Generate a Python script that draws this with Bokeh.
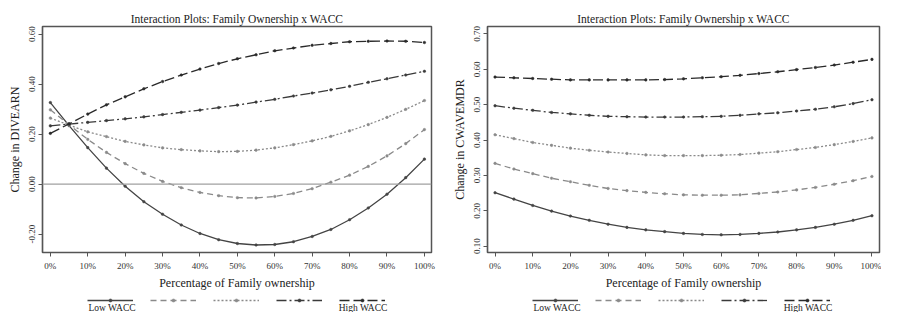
from bokeh.plotting import figure
from bokeh.models import (FixedTicker, Span, Legend, LegendItem, Label, Range1d)
from bokeh.layouts import row, column
from bokeh.core.properties import value
from bokeh.embed import file_html
from bokeh.resources import INLINE

# ---------------- data ----------------
ownership = [0, 5, 10, 15, 20, 25, 30, 35, 40, 45, 50, 55, 60, 65, 70, 75, 80, 85, 90, 95, 100]
x_ticks = [0, 10, 20, 30, 40, 50, 60, 70, 80, 90, 100]
x_tick_labels = ["0%", "10%", "20%", "30%", "40%", "50%", "60%", "70%", "80%", "90%", "100%"]
series_names = ["Low WACC", "WACC 2", "WACC 3", "WACC 4", "High WACC"]

title_text = "Interaction Plots: Family Ownership x WACC"
x_label = "Percentage of Family ownership"

# Left panel: Change in DIVEARN
divearn_y_label = "Change in DIVEARN"
divearn_y_ticks = [-0.2, 0.0, 0.2, 0.4, 0.6]
divearn_y_tick_labels = ["-0.20", "0.00", "0.20", "0.40", "0.60"]
divearn_low = [0.326, 0.234, 0.146, 0.064, -0.008, -0.070, -0.120, -0.163, -0.197, -0.222, -0.237,
               -0.243, -0.241, -0.230, -0.209, -0.181, -0.142, -0.095, -0.040, 0.026, 0.100]
divearn_w2 = [0.297, 0.237, 0.179, 0.127, 0.082, 0.043, 0.011, -0.014, -0.033, -0.046, -0.054,
              -0.055, -0.049, -0.037, -0.018, 0.008, 0.036, 0.071, 0.113, 0.162, 0.218]
divearn_w3 = [0.264, 0.236, 0.209, 0.190, 0.171, 0.157, 0.145, 0.138, 0.133, 0.130, 0.131,
              0.136, 0.145, 0.158, 0.173, 0.191, 0.213, 0.238, 0.267, 0.299, 0.334]
divearn_w4 = [0.233, 0.240, 0.247, 0.254, 0.261, 0.269, 0.278, 0.287, 0.296, 0.306, 0.316,
              0.328, 0.339, 0.352, 0.364, 0.377, 0.391, 0.407, 0.421, 0.436, 0.451]
divearn_high = [0.203, 0.241, 0.280, 0.317, 0.349, 0.381, 0.410, 0.436, 0.460, 0.482, 0.501,
                0.517, 0.533, 0.544, 0.555, 0.562, 0.569, 0.571, 0.572, 0.571, 0.566]

# Right panel: Change in CWAVEMDR
cwavemdr_y_label = "Change in CWAVEMDR"
cwavemdr_y_ticks = [0.1, 0.2, 0.3, 0.4, 0.5, 0.6, 0.7]
cwavemdr_y_tick_labels = ["0.10", "0.20", "0.30", "0.40", "0.50", "0.60", "0.70"]
cwavemdr_low = [0.251, 0.233, 0.215, 0.199, 0.185, 0.173, 0.162, 0.153, 0.146, 0.141, 0.136,
                0.133, 0.132, 0.133, 0.136, 0.140, 0.146, 0.153, 0.162, 0.173, 0.186]
cwavemdr_w2 = [0.334, 0.318, 0.305, 0.292, 0.282, 0.272, 0.263, 0.257, 0.252, 0.248, 0.245,
               0.244, 0.244, 0.245, 0.249, 0.253, 0.259, 0.266, 0.275, 0.285, 0.297]
cwavemdr_w3 = [0.415, 0.404, 0.393, 0.385, 0.377, 0.371, 0.366, 0.362, 0.358, 0.356, 0.356,
               0.356, 0.357, 0.359, 0.363, 0.367, 0.373, 0.379, 0.387, 0.396, 0.406]
cwavemdr_w4 = [0.497, 0.490, 0.484, 0.478, 0.474, 0.470, 0.467, 0.466, 0.465, 0.465, 0.465,
               0.466, 0.467, 0.470, 0.474, 0.477, 0.482, 0.487, 0.494, 0.503, 0.514]
cwavemdr_high = [0.578, 0.576, 0.574, 0.572, 0.570, 0.570, 0.570, 0.570, 0.570, 0.571, 0.573,
                 0.576, 0.579, 0.583, 0.588, 0.593, 0.599, 0.605, 0.612, 0.620, 0.628]

# ---------------- styles ----------------
SERIF = "Liberation Serif"
styles = [
    dict(color="#444444", dash="solid"),
    dict(color="#8a8a8a", dash="6 4"),
    dict(color="#8a8a8a", dash="2 2"),
    dict(color="#3a3a3a", dash="10 3 2 3"),
    dict(color="#2a2a2a", dash="10 4"),
]
MAIN_H = 292
LEG_H = 20
NAN = float("nan")


def make_panel(ys, y_label, y_ticks, y_tick_labels, y_range, x_range,
               width, border_left, border_right, zero_line):
    p = figure(width=width, height=MAIN_H, output_backend="svg", toolbar_location=None,
               x_range=Range1d(*x_range), y_range=Range1d(*y_range),
               min_border_left=border_left, min_border_right=border_right,
               min_border_top=26, min_border_bottom=36,
               title=title_text)
    p.background_fill_color = "white"
    p.border_fill_color = "white"
    p.xgrid.visible = False
    p.ygrid.visible = False
    p.outline_line_color = "#555555"
    p.outline_line_width = 1.5

    p.title.align = "center"
    p.title.text_font = SERIF
    p.title.text_font_style = "normal"
    p.title.text_font_size = "11.5px"
    p.title.text_color = "#222222"
    p.title.standoff = 3

    for ax in (p.xaxis[0], p.yaxis[0]):
        ax.axis_line_color = "#555555"
        ax.axis_line_width = 1.2
        ax.major_tick_line_color = "#555555"
        ax.major_tick_out = 4
        ax.major_tick_in = 0
        ax.minor_tick_line_color = None
        ax.major_label_text_font = SERIF
        ax.major_label_text_font_size = "9px"
        ax.major_label_text_color = "#333333"
        ax.axis_label_text_font = SERIF
        ax.axis_label_text_font_size = "12px"
        ax.axis_label_text_font_style = "normal"
        ax.axis_label_text_color = "#222222"

    p.xaxis.ticker = FixedTicker(ticks=x_ticks)
    p.xaxis.major_label_overrides = dict(zip(x_ticks, x_tick_labels))
    p.xaxis.axis_label = x_label
    p.xaxis.major_label_standoff = 4
    p.xaxis.axis_label_standoff = 2

    p.yaxis.ticker = FixedTicker(ticks=y_ticks)
    p.yaxis.major_label_overrides = dict(zip(y_ticks, y_tick_labels))
    p.yaxis.major_label_orientation = "vertical"
    p.yaxis.axis_label = y_label
    p.yaxis.major_label_standoff = 3
    p.yaxis.axis_label_standoff = 5

    if zero_line:
        p.add_layout(Span(location=0, dimension="width", line_color="#a0a0a0", line_width=1.2))

    for y, st in zip(ys, styles):
        p.line(ownership, y, line_color=st["color"], line_width=1.3, line_dash=st["dash"])
        p.scatter(ownership, y, marker="circle", size=2.6, fill_color=st["color"],
                  line_color=st["color"], line_width=0.5)

    # legend strip underneath the chart (its frame is aligned with the chart frame)
    lf = figure(width=width, height=LEG_H, output_backend="svg", toolbar_location=None,
                x_range=(0, 1), y_range=(0, 1), x_axis_type=None, y_axis_type=None,
                min_border=0)
    lf.outline_line_color = None
    lf.xgrid.visible = False
    lf.ygrid.visible = False
    items = []
    for st in styles:
        rl = lf.line([NAN], [NAN], line_color=st["color"], line_width=1.3, line_dash=st["dash"])
        rm = lf.scatter([NAN], [NAN], marker="circle", size=2.6, fill_color=st["color"],
                        line_color=st["color"], line_width=0.5)
        items.append(LegendItem(label=value(" "), renderers=[rl, rm]))
    legend = Legend(items=items, orientation="horizontal", location=(45, 8),
                    glyph_width=46, glyph_height=8, label_standoff=0, label_width=1,
                    label_height=1, label_text_font_size="2px", spacing=16,
                    padding=0, margin=0, border_line_alpha=0, background_fill_alpha=0)
    lf.add_layout(legend, "center")
    lf.add_layout(Label(x=46, y=5, x_units="screen", y_units="screen",
                        text=series_names[0], text_font=SERIF, text_font_size="9.5px",
                        text_color="#222222", text_baseline="middle", text_align="left"))
    lf.add_layout(Label(x=345, y=5, x_units="screen", y_units="screen",
                        text=series_names[4], text_font=SERIF, text_font_size="9.5px",
                        text_color="#222222", text_baseline="middle", text_align="right"))
    return column(p, lf, spacing=0)


left = make_panel([divearn_low, divearn_w2, divearn_w3, divearn_w4, divearn_high],
                  divearn_y_label, divearn_y_ticks, divearn_y_tick_labels,
                  (-0.273, 0.63), (-2.1, 101.9), 443, 42, 12, True)
right = make_panel([cwavemdr_low, cwavemdr_w2, cwavemdr_w3, cwavemdr_w4, cwavemdr_high],
                   cwavemdr_y_label, cwavemdr_y_ticks, cwavemdr_y_tick_labels,
                   (0.082, 0.721), (-2.0, 102.0), 438, 44, 2, False)

layout = row(left, right, spacing=0)
open("out.html", "w").write(file_html(layout, INLINE))
